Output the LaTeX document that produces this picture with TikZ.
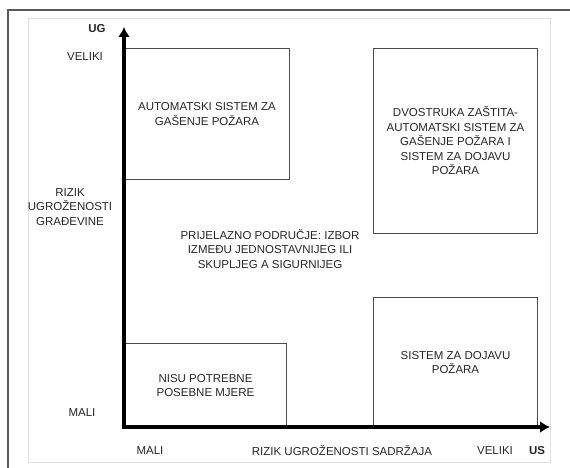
\documentclass[tikz,border=0pt]{standalone}
\usepackage{fontspec}
\setmainfont{Liberation Sans}
\usepackage{tikz}
\usetikzlibrary{arrows.meta,positioning}
\newcommand{\figfont}{\fontsize{11.5}{14.5}\selectfont}
\tikzset{
    %Define style for the two axes
    axis/.style={
           {Latex[length=10pt,width=12pt]}-{Latex[length=10pt,width=12pt]},
           line width=4.5pt,
           line join=miter,
           draw=black},
    %Define style for boxes
    zone/.style={
           rectangle,
           draw=black!70, line width=1pt,
           anchor=north west,
           inner sep=0pt,
           align=center,
           text=black!85,
           font=\figfont},
    %Define style for free texts
    txt/.style={
           inner sep=0pt,
           align=center,
           text=black!85,
           font=\figfont},
    boldtxt/.style={
           txt,
           font=\figfont\bfseries}
}

\begin{document}
\begin{tikzpicture}[x=1pt,y=-1pt]
\useasboundingbox (0,0) rectangle (570,468);
% page frame
\draw[black!65, line width=1.2pt] (8,468) -- (8,10) -- (570,10);
\draw[black!12, line width=0.8pt] (28,18) rectangle (550,462);
% boxes
\node[zone, minimum width=165pt, minimum height=131pt] (auto) at (124,48)
    {AUTOMATSKI SISTEM ZA\\GAŠENJE POŽARA};
\node[zone, minimum width=164pt, minimum height=185pt] (dual) at (373,48)
    {DVOSTRUKA ZAŠTITA-\\AUTOMATSKI SISTEM ZA\\GAŠENJE POŽARA I\\SISTEM ZA DOJAVU\\POŽARA};
\node[zone, minimum width=162pt, minimum height=84pt] (none) at (124,343)
    {NISU POTREBNE\\POSEBNE MJERE};
\node[zone, minimum width=164pt, minimum height=130pt] (alarm) at (373,297)
    {SISTEM ZA DOJAVU\\POŽARA};
\node[txt] (mid) at (270,249)
    {PRIJELAZNO PODRUČJE: IZBOR\\IZMEĐU JEDNOSTAVNIJEG ILI\\SKUPLJEG A SIGURNIJEG};
% axes
\coordinate (O) at (124,427);
\coordinate (ytip) at (124,27);
\coordinate (xtip) at (550,427);
\draw[axis] (ytip) -- (O) -- (xtip);
% axis labels
\node[boldtxt] (ug) at (97,29) {UG};
\node[txt] (ymax) at (85,57) {VELIKI};
\node[txt] (ylab) at (70,207) {RIZIK\\UGROŽENOSTI\\GRAĐEVINE};
\node[txt] (ymin) at (82,413) {MALI};
\node[txt] (xmin) at (150,451) {MALI};
\node[txt] (xlab) at (342,451) {RIZIK UGROŽENOSTI SADRŽAJA};
\node[txt] (xmax) at (495,451) {VELIKI};
\node[boldtxt] (us) at (537,451) {US};
\end{tikzpicture}
\end{document}
